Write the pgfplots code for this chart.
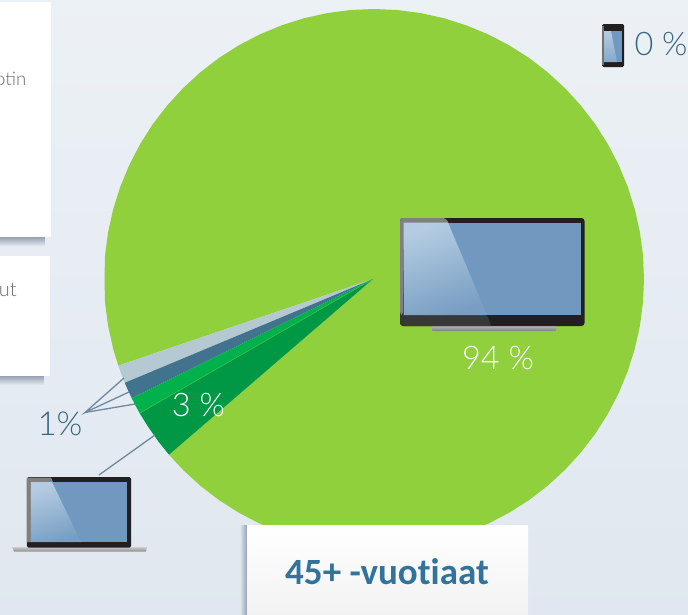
\documentclass[border=0pt]{standalone}
\usepackage{pgfplots}
\pgfplotsset{compat=1.18}
\usepackage{fontspec}
\setmainfont{Carlito}
\newfontfamily\thinf{Lato}[UprightFont=* Light]
\definecolor{cgreen}{HTML}{8FD03C}
\definecolor{cgray}{HTML}{B5C9D2}
\definecolor{cblue}{HTML}{41738F}
\definecolor{cbright}{HTML}{00B14C}
\definecolor{cdark}{HTML}{009844}
\definecolor{cline}{HTML}{6F8A9B}
\definecolor{clabel}{HTML}{376680}
\definecolor{ctitle}{HTML}{32739C}
\definecolor{cscreen}{HTML}{7199BF}
\definecolor{cglare}{HTML}{B4CCE2}
\definecolor{cbezel}{HTML}{231F20}
\definecolor{cshadow}{HTML}{96A2B2}
\definecolor{bgtop}{HTML}{EEF2F6}
\definecolor{bgbot}{HTML}{DEE6EF}
\begin{document}
\begin{tikzpicture}
\clip (0,0) rectangle (688pt,614pt);
\begin{axis}[
  at={(0,0)}, anchor=south west,
  scale only axis, width=688pt, height=614pt,
  xmin=0, xmax=688, ymin=0, ymax=614, y dir=reverse,
  hide axis, clip=false, no markers,
]
% background
\shade[shading angle=200, top color=bgtop, bottom color=bgbot] (axis cs:-80,-80) rectangle (axis cs:768,694);
% left boxes
\shade[top color=cshadow, bottom color=bgbot!60!bgtop] (axis cs:0,237) rectangle (axis cs:45,246);
\fill[white] (axis cs:0,2) rectangle (axis cs:51,237);
\shade[top color=cshadow, bottom color=bgbot!60!bgtop] (axis cs:0,376) rectangle (axis cs:44,385);
\fill[white] (axis cs:0,256) rectangle (axis cs:50,376);
\node[anchor=east, inner sep=0pt, text=black!58, font=\thinf\fontsize{18.5}{22}\selectfont] at (axis cs:26.5,78.5) {otin};
\node[anchor=east, inner sep=0pt, text=black!58, font=\thinf\fontsize{20}{22}\selectfont] at (axis cs:17,289.5) {ut};
% pie: 94 %
\addplot[fill=cgreen, draw=none] coordinates {
(373,279) (169,454.7) (183.1,469.9) (200.4,485.8) (219.1,500.2) (239,512.8) (259.9,523.7) (281.7,532.7)
(304.1,539.8) (327.1,544.9) (350.5,548) (374,549) (397.5,548) (420.9,544.9) (443.9,539.8) (466.3,532.7)
(488.1,523.7) (509,512.8) (528.9,500.2) (547.6,485.8) (564.9,469.9) (580.8,452.6) (595.2,433.9) (607.8,414)
(618.7,393.1) (627.7,371.3) (634.8,348.9) (639.9,325.9) (643,302.5) (644,279) (643,255.5) (639.9,232.1)
(634.8,209.1) (627.7,186.7) (618.7,164.9) (607.8,144) (595.2,124.1) (580.8,105.4) (564.9,88.1) (547.6,72.2)
(528.9,57.8) (509,45.2) (488.1,34.3) (466.3,25.3) (443.9,18.2) (420.9,13.1) (397.5,10) (374,9)
(350.5,10) (327.1,13.1) (304.1,18.2) (281.7,25.3) (259.9,34.3) (239,45.2) (219.1,57.8) (200.4,72.2)
(183.1,88.1) (167.2,105.4) (152.8,124.1) (140.2,144) (129.3,164.9) (120.3,186.7) (113.2,209.1) (108.1,232.1)
(105,255.5) (104.5,279) (105,302.5) (108.1,325.9) (113.2,348.9) (118.3,365.6)
} --cycle;
% 1 % slices
\addplot[fill=cgray, draw=none] coordinates {(373,279) (118.3,365.6) (121.4,374.2) (124.7,382.8)} --cycle;
\addplot[fill=cblue, draw=none] coordinates {(373,279) (124.7,382.8) (128.1,390.5) (131.7,398.2)} --cycle;
\addplot[fill=cbright, draw=none] coordinates {(373,279) (131.7,398.2) (135.6,405.8) (139.7,413.2)} --cycle;
% 3 % slice
\addplot[fill=cdark, draw=none] coordinates {(373,279) (139.7,413.2) (147.6,426) (158.4,441.5) (169,454.7)} --cycle;
\addplot[draw=cgreen!50!cbright, line width=0.5pt] coordinates {(373,279) (139.7,413.2)};
% leader lines
\addplot[draw=cline, line width=1.3pt] coordinates {(124,378) (85,412.5) (129,392)};
\addplot[draw=cline, line width=1.3pt] coordinates {(85,412.5) (135,404)};
\addplot[draw=cline, line width=1.3pt] coordinates {(99,475) (155,435)};
% TV
\shade[top color=black!25, bottom color=black!50, rounded corners=1pt] (axis cs:432,325) rectangle (axis cs:556,331);
\fill[cbezel, rounded corners=3pt] (axis cs:400,218) rectangle (axis cs:584.5,326);
\fill[black!50, rounded corners=3pt] (axis cs:400,218) -- (axis cs:446,218) -- (axis cs:450,226) -- (axis cs:404,226) -- (axis cs:403,315) -- (axis cs:400,315) -- cycle;
\fill[black!78!white, rounded corners=2pt] (axis cs:400,315) -- (axis cs:487,315) -- (axis cs:491,326) -- (axis cs:402,326) -- (axis cs:400,323) -- cycle;
\fill[cscreen] (axis cs:403.5,222.5) rectangle (axis cs:580.5,315);
\shade[top color=cglare, bottom color=cscreen!90!cglare, shading angle=20] (axis cs:403.5,222.5) -- (axis cs:448,222.5) -- (axis cs:487,315) -- (axis cs:403.5,315) -- cycle;
% laptop
\shade[top color=black!20, bottom color=black!45] (axis cs:12,547) -- (axis cs:147,547) -- (axis cs:146,551.5) -- (axis cs:14,551.5) -- cycle;
\fill[cbezel, rounded corners=1.5pt] (axis cs:27,477) rectangle (axis cs:131,547.5);
\fill[black!50] (axis cs:27,477.5) -- (axis cs:51,477.5) -- (axis cs:53,482) -- (axis cs:31,482) -- (axis cs:31,542) -- (axis cs:27,542) -- cycle;
\fill[cscreen] (axis cs:31,482) rectangle (axis cs:127,542);
\shade[top color=cglare, bottom color=cscreen!90!cglare, shading angle=20] (axis cs:31,482) -- (axis cs:52,482) -- (axis cs:81,542) -- (axis cs:31,542) -- cycle;
% phone
\fill[cbezel, rounded corners=1.5pt] (axis cs:602,24) rectangle (axis cs:624,67);
\fill[black!55] (axis cs:602,26) -- (axis cs:604,26) -- (axis cs:604,65) -- (axis cs:602,65) -- cycle;
\fill[cscreen] (axis cs:604,31) rectangle (axis cs:622,62);
\shade[top color=cglare, bottom color=cscreen!70!cglare] (axis cs:604,31) -- (axis cs:611,31) -- (axis cs:617,62) -- (axis cs:604,62) -- cycle;
% labels
\node[text=white, font=\thinf\fontsize{32.5}{34}\selectfont] at (axis cs:498,358.5) {94 \%};
\node[text=white, font=\thinf\fontsize{32.5}{34}\selectfont] at (axis cs:198.5,405.5) {3 \%};
\node[text=clabel, font=\thinf\fontsize{33}{34}\selectfont] at (axis cs:60,423.5) {1\%};
\node[text=clabel, font=\thinf\fontsize{32.5}{34}\selectfont, anchor=west] at (axis cs:631,44.5) {0 \%};
% title box
\shade[left color=bgbot, right color=cshadow] (axis cs:240,525) rectangle (axis cs:247,614);
\shade[shading angle=160, top color=white, middle color=white, bottom color=black!5] (axis cs:247,525) rectangle (axis cs:528,614);
\node[text=ctitle, font=\bfseries\fontsize{37}{39}\selectfont] at (axis cs:387,571.5) {45+ -vuot\kern0pt iaat};
\end{axis}
\end{tikzpicture}
\end{document}
